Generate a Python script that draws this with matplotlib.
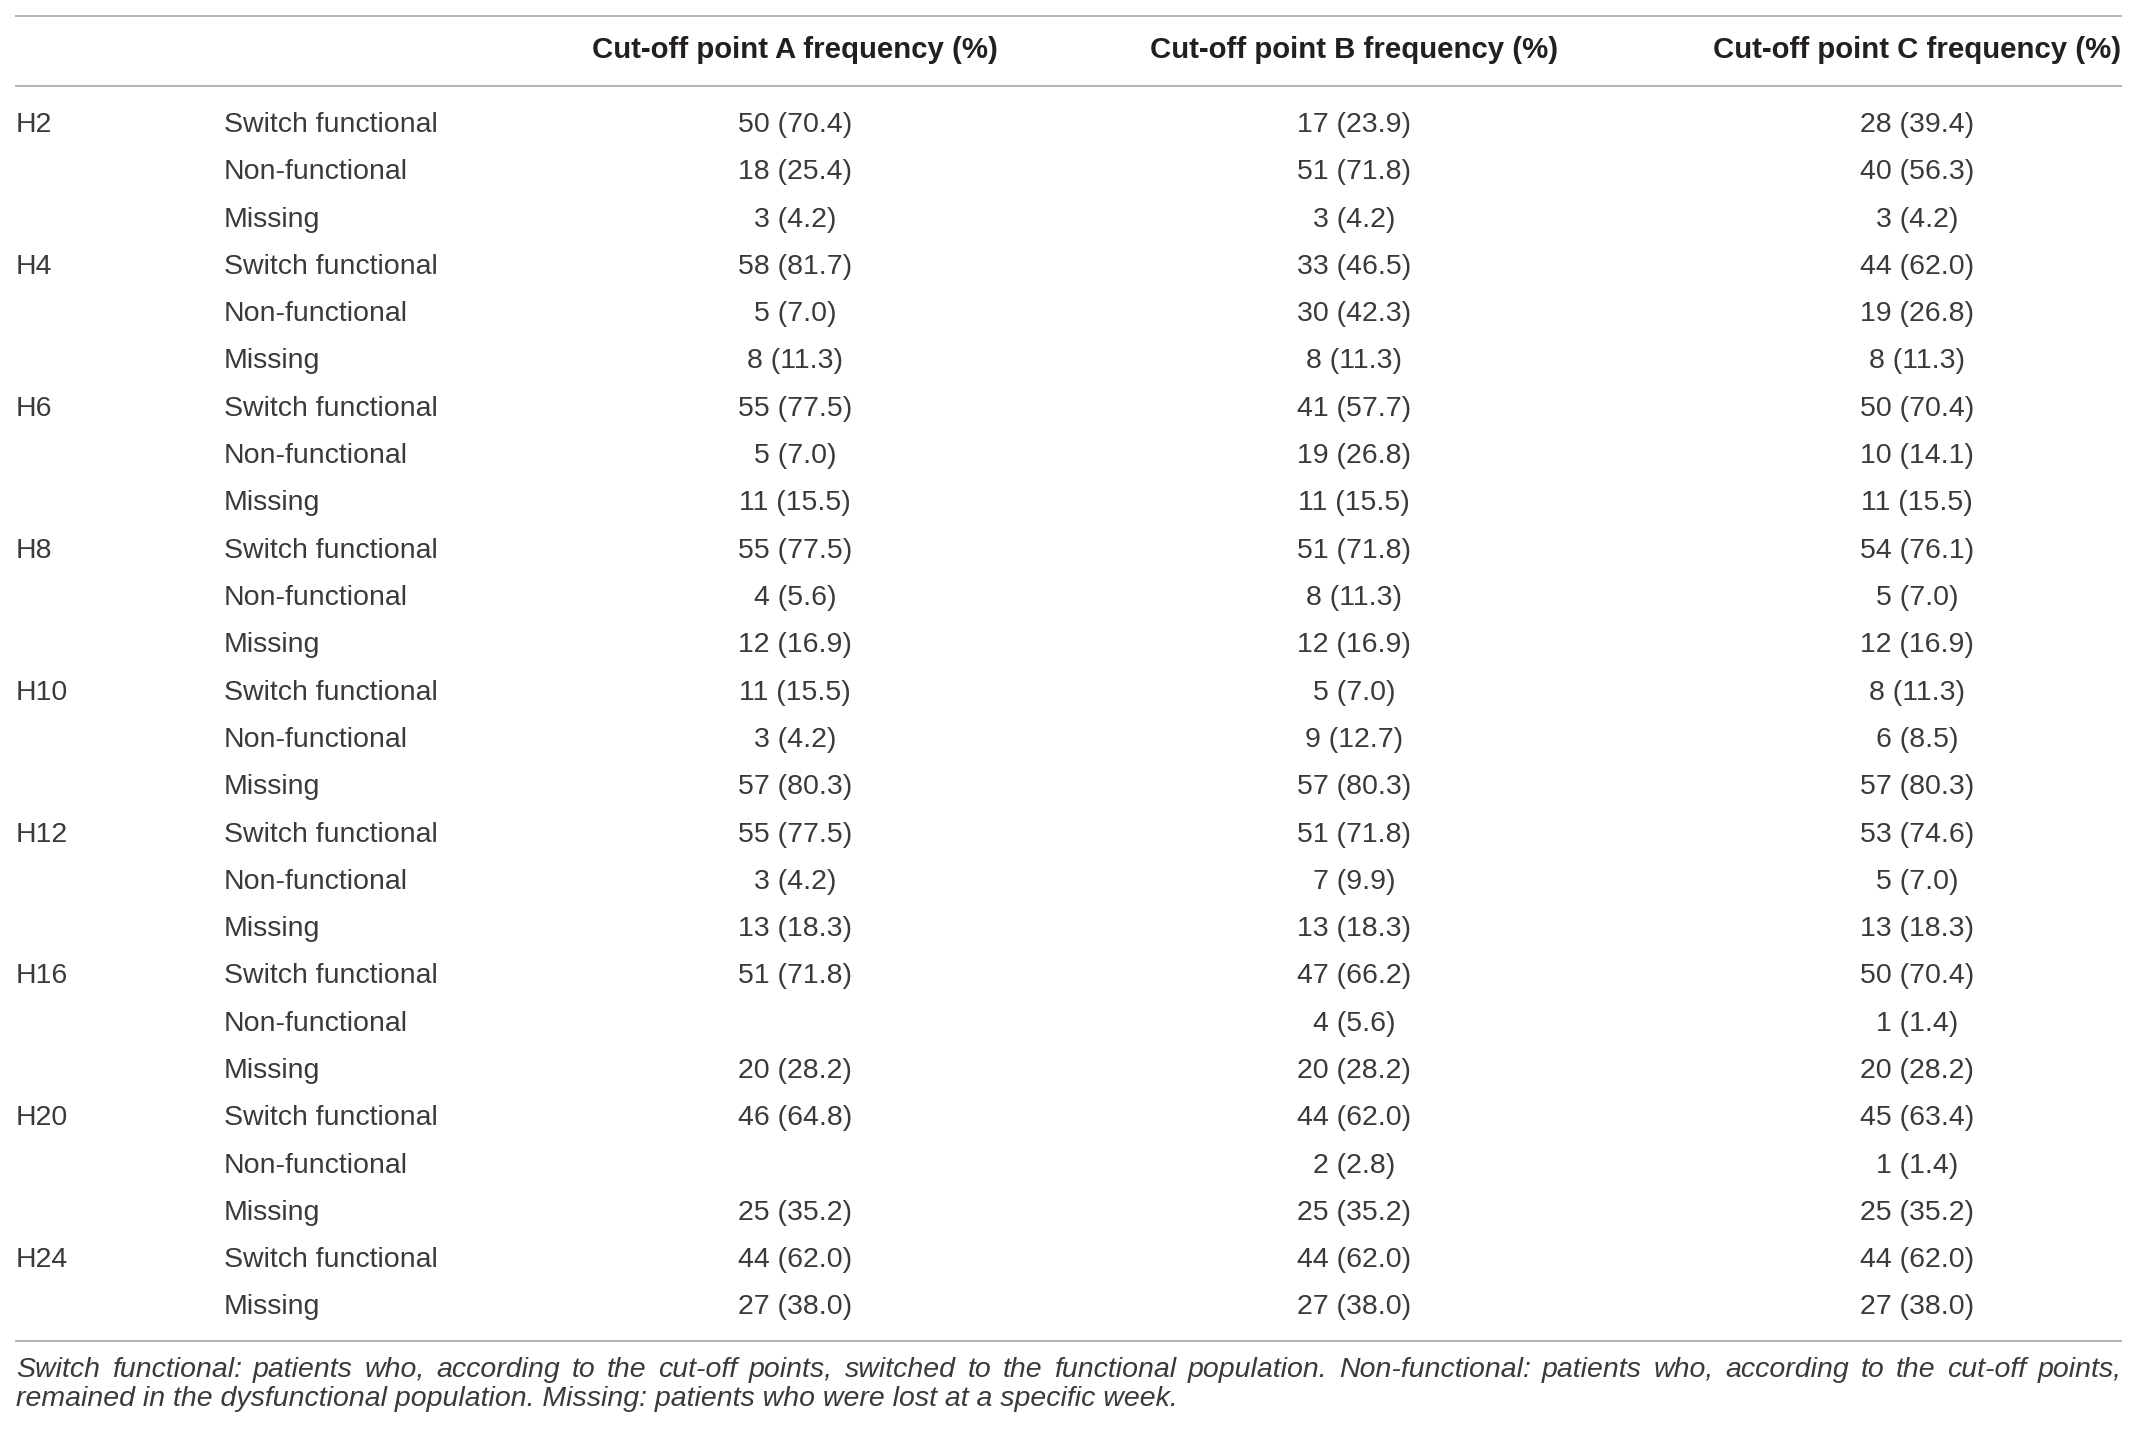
import matplotlib
matplotlib.use("Agg")
import matplotlib.pyplot as plt

plt.rcParams['font.family'] = ['Liberation Sans', 'DejaVu Sans']

# table content
weeks = ["H2", "H4", "H6", "H8", "H10", "H12", "H16", "H20", "H24"]
statuses = [
    ["Switch functional", "Non-functional", "Missing"],
    ["Switch functional", "Non-functional", "Missing"],
    ["Switch functional", "Non-functional", "Missing"],
    ["Switch functional", "Non-functional", "Missing"],
    ["Switch functional", "Non-functional", "Missing"],
    ["Switch functional", "Non-functional", "Missing"],
    ["Switch functional", "Non-functional", "Missing"],
    ["Switch functional", "Non-functional", "Missing"],
    ["Switch functional", "Missing"],
]
headers = ["Cut-off point A frequency (%)",
           "Cut-off point B frequency (%)",
           "Cut-off point C frequency (%)"]

# None = empty cell
count_a = [50, 18, 3, 58, 5, 8, 55, 5, 11, 55, 4, 12, 11, 3, 57, 55, 3, 13,
           51, None, 20, 46, None, 25, 44, 27]
pct_a = [70.4, 25.4, 4.2, 81.7, 7.0, 11.3, 77.5, 7.0, 15.5, 77.5, 5.6, 16.9,
         15.5, 4.2, 80.3, 77.5, 4.2, 18.3, 71.8, None, 28.2, 64.8, None, 35.2,
         62.0, 38.0]
count_b = [17, 51, 3, 33, 30, 8, 41, 19, 11, 51, 8, 12, 5, 9, 57, 51, 7, 13,
           47, 4, 20, 44, 2, 25, 44, 27]
pct_b = [23.9, 71.8, 4.2, 46.5, 42.3, 11.3, 57.7, 26.8, 15.5, 71.8, 11.3, 16.9,
         7.0, 12.7, 80.3, 71.8, 9.9, 18.3, 66.2, 5.6, 28.2, 62.0, 2.8, 35.2,
         62.0, 38.0]
count_c = [28, 40, 3, 44, 19, 8, 50, 10, 11, 54, 5, 12, 8, 6, 57, 53, 5, 13,
           50, 1, 20, 45, 1, 25, 44, 27]
pct_c = [39.4, 56.3, 4.2, 62.0, 26.8, 11.3, 70.4, 14.1, 15.5, 76.1, 7.0, 16.9,
         11.3, 8.5, 80.3, 74.6, 7.0, 18.3, 70.4, 1.4, 28.2, 63.4, 1.4, 35.2,
         62.0, 38.0]

footnote_1 = ("Switch functional: patients who, according to the cut-off points, "
              "switched to the functional population. Non-functional: patients who, "
              "according to the cut-off points,")
footnote_2 = ("remained in the dysfunctional population. Missing: patients who "
              "were lost at a specific week.")

W, H = 2137, 1437
fig = plt.figure(figsize=(W / 100, H / 100), dpi=100)
ax = fig.add_axes([0, 0, 1, 1])
ax.set_xlim(0, W)
ax.set_ylim(H, 0)
ax.axis('off')

txt = '#3a3a3a'
hdr = '#231f20'
rule = '#b3b3b3'
fs = 20.5

x_left, x_right = 15, 2122
x_week, x_status = 16, 224
col_centers = [795, 1354, 1917]

# rules
for y in (16, 86, 1341):
    ax.plot([x_left, x_right], [y, y], color=rule, lw=1.4, solid_capstyle='butt')

for xc, h in zip(col_centers, headers):
    ax.text(xc, 58, h, ha='center', va='baseline', fontsize=21.2,
            fontweight='bold', color=hdr)

y0, pitch = 132, 47.3
cols = [(count_a, pct_a), (count_b, pct_b), (count_c, pct_c)]
i = 0
for w, sts in zip(weeks, statuses):
    for k, s in enumerate(sts):
        y = y0 + i * pitch
        if k == 0:
            ax.text(x_week, y, w, ha='left', va='baseline', fontsize=fs, color=txt)
        ax.text(x_status, y, s, ha='left', va='baseline', fontsize=fs, color=txt)
        for xc, (cnt, pct) in zip(col_centers, cols):
            if cnt[i] is not None:
                ax.text(xc, y, "{} ({:.1f})".format(cnt[i], pct[i]), ha='center',
                        va='baseline', fontsize=fs, color=txt)
        i += 1

# footnote, first line justified across the table width
renderer = fig.canvas.get_renderer()
words = footnote_1.split(" ")
items = [ax.text(0, 1377, wd, ha='left', va='baseline', fontsize=fs,
                 style='italic', color=txt) for wd in words]
widths = [t.get_window_extent(renderer).width for t in items]
gap = (x_right - x_week - sum(widths)) / (len(words) - 1)
x = x_week
for t, wd in zip(items, widths):
    t.set_x(x)
    x += wd + gap
ax.text(x_week, 1406, footnote_2, ha='left', va='baseline', fontsize=fs,
        style='italic', color=txt)

fig.savefig("out.png", dpi=100)
